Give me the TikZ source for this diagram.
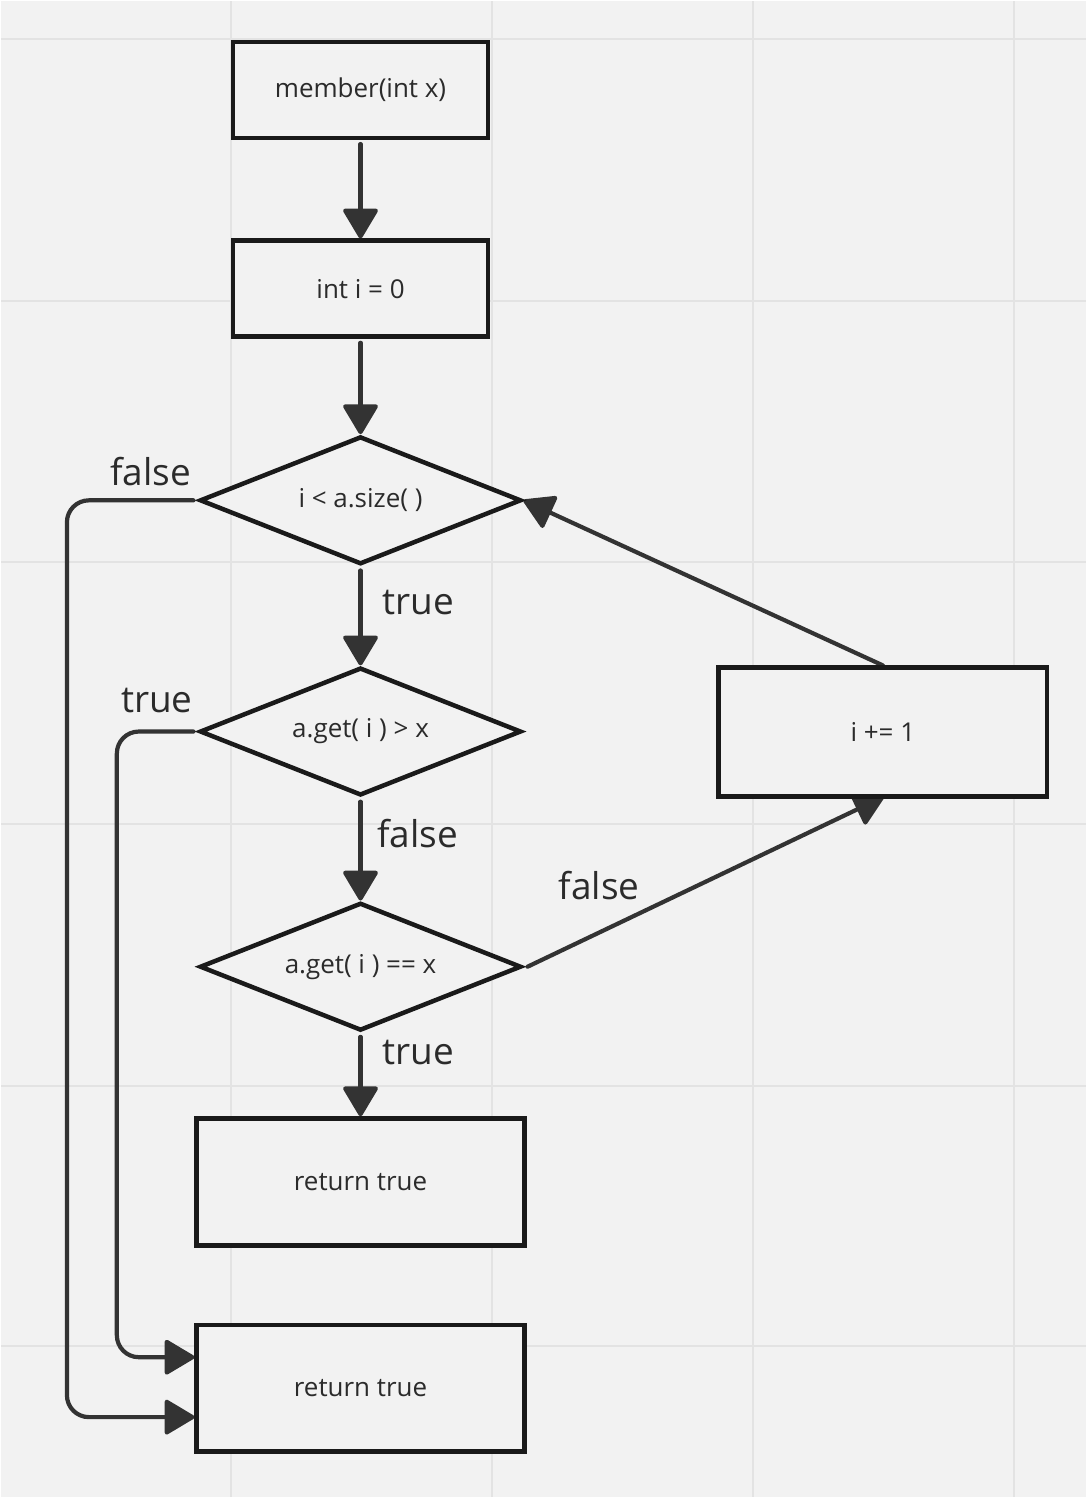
\documentclass[tikz,border=0pt]{standalone}
\usepackage{fontspec}
\setmainfont{Open Sans}
\usetikzlibrary{shapes.geometric,arrows.meta,calc}
\definecolor{bg}{HTML}{F2F2F2}
\definecolor{gridc}{HTML}{E3E3E3}
\definecolor{ink}{HTML}{1A1A1A}
\definecolor{wire}{HTML}{333333}
\definecolor{txt}{HTML}{2B2B2B}
\pgfdeclarelayer{back}
\pgfdeclarelayer{canvas}
\pgfsetlayers{canvas,back,main}
\begin{document}
\begin{tikzpicture}[x=1pt,y=-1pt,
  stepbox/.style={draw=ink, line width=4.5pt, fill=bg, rectangle, inner sep=0pt,
    font=\fontsize{26}{30}\selectfont, text=txt},
  test/.style={draw=ink, line width=4.5pt, fill=bg, diamond, aspect=2.6,
    minimum width=322pt, minimum height=128pt, inner sep=0pt,
    font=\fontsize{26}{30}\selectfont, text=txt},
  flow/.style={draw=wire, line width=4.2pt, line cap=round,
    -{Triangle[length=32pt,width=37pt,round]}},
  lbl/.style={font=\fontsize{37}{42}\selectfont, text=txt}]

% canvas and grid
\begin{pgfonlayer}{canvas}
\fill[bg] (0,0) rectangle (1086,1498);
\foreach \gx in {230,491.5,753,1014.5} \draw[gridc, line width=2pt] (\gx,0) -- (\gx,1498);
\foreach \gy in {38,300,562,824,1086,1347} \draw[gridc, line width=2pt] (0,\gy) -- (1086,\gy);
\end{pgfonlayer}
\useasboundingbox (0,0) rectangle (1086,1498);

% process boxes and decisions
\node[stepbox, minimum width=255pt, minimum height=96pt] (start) at (360,89) {member(int x)};
\node[stepbox, minimum width=255pt, minimum height=96pt] (init) at (360,288) {int i = 0};
\node[test] (loop) at (360,500) {i < a.size( )};
\node[test] (gt) at (360,731.5) {a.get( i ) > x};
\node[test] (eq) at (360,967) {a.get( i ) == x};
\node[stepbox, minimum width=328pt, minimum height=127pt] (rt1) at (360,1182.5) {return true};
\node[stepbox, minimum width=328pt, minimum height=127pt] (rt2) at (360,1389) {return true};
\node[stepbox, minimum width=329pt, minimum height=129pt] (inc) at (883,732) {i += 1};

% connectors
\begin{pgfonlayer}{back}
\draw[flow, shorten <=4pt] (start.south) -- (init.north);
\draw[flow, shorten <=4pt] (init.south) -- (loop.north);
\draw[flow, shorten <=4pt] (loop.south) -- (gt.north);
\draw[flow, shorten <=4pt] (gt.south) -- (eq.north);
\draw[flow, shorten <=4pt] (eq.south) -- (rt1.north);
\draw[flow, rounded corners=22pt] ($(loop.west)+(-4,0)$) -- (66,500) -- (66,1418)
  -- ($(rt2.west)+(0,29)$);
\draw[flow, rounded corners=22pt] ($(gt.west)+(-4,0)$) -- (116,731.5) -- (116,1358)
  -- ($(rt2.west)+(0,-31)$);
\coordinate (incin) at ($(inc.south)+(1,-2)$);
\draw[flow] ($(eq.east)+(4,0)$) -- (incin);
\draw[flow] (inc.north) -- (loop.east);
\end{pgfonlayer}

% branch labels
\node[lbl] (l1) at (150,471) {false};
\node[lbl] (l2) at (418,602) {true};
\node[lbl] (l3) at (156,700) {true};
\node[lbl] (l4) at (417,834) {false};
\node[lbl] (l5) at (599,886) {false};
\node[lbl] (l6) at (418,1053) {true};
\end{tikzpicture}
\end{document}
